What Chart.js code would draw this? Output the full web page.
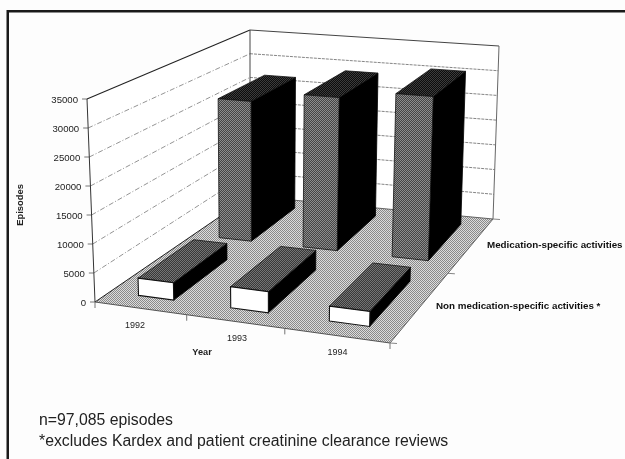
<!DOCTYPE html>
<html><head><meta charset="utf-8">
<script src="https://cdn.jsdelivr.net/npm/chart.js@4"></script>
<style>html,body{margin:0;padding:0;background:#fdfdfd;overflow:hidden}
canvas{display:block;filter:blur(0.45px)}</style></head>
<body><canvas id="c" width="625" height="459"></canvas>
<script>
const years = ['1992','1993','1994'];
const medication = [26900, 29000, 30600];
const nonMedication = [3000, 3600, 2500];
const seriesNames = ['Medication-specific activities','Non medication-specific activities *'];
const footnotes = ['n=97,085 episodes','*excludes Kardex and patient creatinine clearance reviews'];

// Projected box of the chart (layout only)
const FLOOR = [[95,302],[390,343],[493,219],[250,196]];   // front-left, front-right, back-right, back-left
const ROOF  = [[87,99],[396,128],[499,46],[250,30]];
const DEPTH = [[0.58,0.92],[0.08,0.41]];

function homography(q){
  const [[x0,y0],[x1,y1],[x2,y2],[x3,y3]] = q;
  const dx1=x1-x2,dx2=x3-x2,sx=x0-x1+x2-x3,dy1=y1-y2,dy2=y3-y2,sy=y0-y1+y2-y3;
  const den=dx1*dy2-dx2*dy1;
  const g=(sx*dy2-dx2*sy)/den,h=(dx1*sy-sx*dy1)/den;
  const a=x1-x0+g*x1,b=x3-x0+h*x3,d=y1-y0+g*y1,e=y3-y0+h*y3;
  return (u,v)=>{const w=g*u+h*v+1;return [(a*u+b*v+x0)/w,(d*u+e*v+y0)/w];};
}
const floorH=homography(FLOOR), roofH=homography(ROOF);
function P(u,v,t){const f=floorH(u,v),r=roofH(u,v);return [f[0]+(r[0]-f[0])*t,f[1]+(r[1]-f[1])*t];}

function checker(ctx,c1,c2){
  const o=document.createElement('canvas');o.width=o.height=2;
  const x=o.getContext('2d');x.fillStyle=c1;x.fillRect(0,0,2,2);x.fillStyle=c2;x.fillRect(0,0,1,1);x.fillRect(1,1,1,1);
  return ctx.createPattern(o,'repeat');
}
function poly(ctx,pts,fill,stroke,lw){
  ctx.beginPath();pts.forEach((p,i)=>i?ctx.lineTo(p[0],p[1]):ctx.moveTo(p[0],p[1]));ctx.closePath();
  if(fill){ctx.fillStyle=fill;ctx.fill();}
  if(stroke){ctx.strokeStyle=stroke;ctx.lineWidth=lw||1;ctx.stroke();}
}
function line(ctx,a,b,color,lw,dash){
  ctx.save();ctx.beginPath();ctx.moveTo(a[0],a[1]);ctx.lineTo(b[0],b[1]);
  ctx.strokeStyle=color;ctx.lineWidth=lw||1;ctx.setLineDash(dash||[]);ctx.stroke();ctx.restore();
}
function text(ctx,s,x,y,font,align,color){
  ctx.font=font;ctx.textAlign=align||'left';ctx.textBaseline='middle';ctx.fillStyle=color||'#222';ctx.fillText(s,x,y);
}
const FONT='"Liberation Sans", Arial, sans-serif';

const box3d={
  id:'box3d',
  beforeDatasetsDraw(chart){
    const ctx=chart.ctx,ys=chart.scales.y,a=chart.chartArea;
    const frac=v=>(a.bottom-ys.getPixelForValue(v))/(a.bottom-a.top);
    ctx.save();
    // page frame
    ctx.fillStyle='#1a1a1a';ctx.fillRect(7,10,618,2.5);ctx.fillRect(6.5,10,2.5,449);
    // walls
    poly(ctx,[P(0,0,0),P(0,1,0),P(0,1,1),P(0,0,1)],'#ffffff');
    poly(ctx,[P(0,1,0),P(1,1,0),P(1,1,1),P(0,1,1)],'#ffffff');
    // floor
    poly(ctx,[P(0,0,0),P(1,0,0),P(1,1,0),P(0,1,0)],checker(ctx,'#dcdcdc','#8a8a8a'));
    // gridlines and value axis
    ys.ticks.forEach(t=>{
      const f=frac(t.value);
      if(t.value>0 && t.value<35000){
        line(ctx,P(0,0,f),P(0,1,f),'#888',0.9,[5,2,1,2]);
        line(ctx,P(0,1,f),P(1,1,f),'#777',0.9,[3,1]);
      }
      const e=P(0,0,f);
      line(ctx,e,[e[0]-5,e[1]],'#666',0.9);
      text(ctx,String(t.value),e[0]-9,e[1]+1.5,'9.6px '+FONT,'right','#222');
    });
    // wall outlines
    line(ctx,P(0,0,0),P(0,0,1),'#333',1);
    line(ctx,P(0,0,1),P(0,1,1),'#222',1.1);
    line(ctx,P(0,1,0),P(0,1,1),'#444',1);
    line(ctx,P(0,1,1),P(1,1,1),'#444',1);
    line(ctx,P(1,1,0),P(1,1,1),'#666',1);
    // floor edges
    line(ctx,P(0,0,0),P(0,1,0),'#222',1);
    line(ctx,P(0,0,0),P(1,0,0),'#444',0.9);
    line(ctx,P(1,0,0),P(1,1,0),'#555',0.9);
    line(ctx,P(0,1,0),P(1,1,0),'#555',0.9);
    // category ticks on the front edge, series ticks on the right edge
    [0,1,2,3].forEach(i=>{const p=P(i/3,0,0);line(ctx,p,[p[0],p[1]+6],'#666',0.9);});
    [0,0.5,1].forEach(v=>{const p=P(1,v,0);line(ctx,p,[p[0]+7,p[1]+0.5],'#777',0.9);});
    // category labels
    const xs=chart.scales.x, offsets=[[-5,17],[2,17],[1,17]];
    xs.ticks.forEach((t,i)=>{
      const p=P((xs.getPixelForTick(i)-a.left)/(a.right-a.left),0,0);
      text(ctx,xs.getLabelForValue(t.value),p[0]+offsets[i][0],p[1]+offsets[i][1],'9px '+FONT,'center','#222');
    });
    ctx.restore();
  },
  afterDatasetsDraw(chart){
    const ctx=chart.ctx,a=chart.chartArea;
    ctx.save();
    const uOf=x=>(x-a.left)/(a.right-a.left), tOf=y=>(a.bottom-y)/(a.bottom-a.top);
    const styles=[
      {front:checker(ctx,'#444444','#8c8c8c'),top:checker(ctx,'#0c0c0c','#3c3c3c')},
      {front:'#ffffff',top:checker(ctx,'#383838','#747474')}
    ];
    chart.data.datasets.forEach((ds,di)=>{
      const [v0,v1]=DEPTH[di],st=styles[di];
      chart.getDatasetMeta(di).data.forEach(el=>{
        const hw=el.width/2,u0=uOf(el.x-hw)+0.005,u1=uOf(el.x+hw)+0.005,t=tOf(el.y);
        poly(ctx,[P(u1,v0,0),P(u1,v1,0),P(u1,v1,t),P(u1,v0,t)],'#000','#000',0.8);
        poly(ctx,[P(u0,v0,t),P(u1,v0,t),P(u1,v1,t),P(u0,v1,t)],st.top,'#111',0.8);
        poly(ctx,[P(u0,v0,0),P(u1,v0,0),P(u1,v0,t),P(u0,v0,t)],st.front,'#111',di?1.1:0.8);
      });
    });
    ctx.save();ctx.translate(20,205);ctx.rotate(-Math.PI/2);
    text(ctx,chart.options.scales.y.title.text,0,0,'bold 9.4px '+FONT,'center','#222');ctx.restore();
    text(ctx,chart.options.scales.x.title.text,202,352,'bold 9.2px '+FONT,'center','#222');
    text(ctx,chart.data.datasets[0].label,487,245,'bold 9.8px '+FONT,'left','#111');
    text(ctx,chart.data.datasets[1].label,436,306,'bold 9.8px '+FONT,'left','#111');
    text(ctx,footnotes[0],39,421,'15.8px '+FONT,'left','#222');
    text(ctx,footnotes[1],39,442,'15.8px '+FONT,'left','#222');
    ctx.restore();
  }
};

new Chart(document.getElementById('c'),{
  type:'bar',
  data:{labels:years,datasets:[
    {label:seriesNames[0],data:medication,grouped:false,backgroundColor:'rgba(0,0,0,0)',borderWidth:0,barPercentage:0.39,categoryPercentage:1},
    {label:seriesNames[1],data:nonMedication,grouped:false,backgroundColor:'rgba(0,0,0,0)',borderWidth:0,barPercentage:0.39,categoryPercentage:1}
  ]},
  options:{
    responsive:false,animation:false,devicePixelRatio:1,
    layout:{padding:{left:95,top:99,right:235,bottom:157}},
    plugins:{legend:{display:false},tooltip:{enabled:false},title:{display:false}},
    scales:{
      x:{type:'category',display:false,title:{text:'Year'}},
      y:{type:'linear',display:false,min:0,max:35000,ticks:{stepSize:5000},title:{text:'Episodes'}}
    }
  },
  plugins:[box3d]
});
</script></body></html>
